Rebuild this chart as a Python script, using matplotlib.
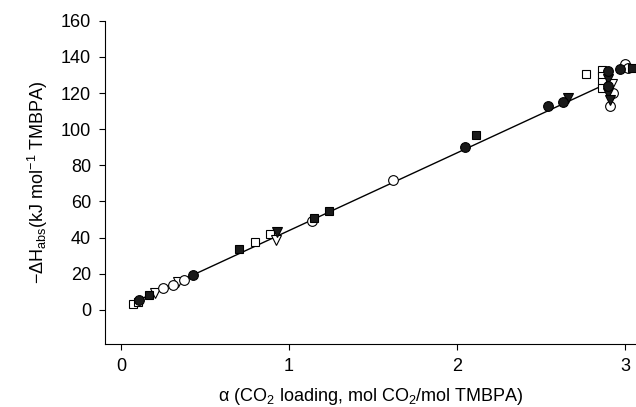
import numpy as np
import matplotlib.pyplot as plt

plt.rcParams['font.family'] = ['Liberation Sans', 'DejaVu Sans']
plt.rcParams['mathtext.fontset'] = 'custom'
plt.rcParams['mathtext.rm'] = 'Liberation Sans'
plt.rcParams['mathtext.it'] = 'Liberation Sans:italic'

# data (alpha, -dH)
fc_x = [0.11, 0.43, 2.05, 2.54, 2.63, 2.90, 2.97, 2.90]
fc_y = [5.5, 19.3, 90, 113, 115, 132, 133.5, 124]
fs_x = [0.17, 0.70, 1.15, 1.24, 2.11, 3.04]
fs_y = [8.0, 33.7, 50.8, 54.6, 97, 134]
ft_x = [0.93, 2.66, 2.90, 2.90, 2.91]
ft_y = [43, 117, 128, 120, 116]
oc_x = [0.25, 0.31, 0.375, 1.14, 1.62, 2.93, 2.91, 3.0, 3.02]
oc_y = [12, 13.8, 16.5, 49, 71.7, 120, 113, 136, 134]
os_x = [0.07, 0.10, 0.80, 0.89, 2.77, 2.86, 2.86, 2.86, 2.86]
os_y = [3.5, 4.6, 37.5, 41.9, 130.6, 133, 129.7, 126.3, 123]
ot_x = [0.20, 0.34, 0.92, 2.92]
ot_y = [9.4, 15.4, 38.6, 125]

# linear fit line
fit_a = 43.0
fit_b = 0.9
fit_x = np.array([0.07, 2.86])

fig = plt.figure(figsize=(6.36, 4.07), dpi=100)
ax = fig.add_axes([0.165, 0.155, 0.835, 0.794])

ax.plot(fit_x, fit_a * fit_x + fit_b, color='black', lw=1, zorder=1)

blk = '#1a1a1a'
kw = dict(ls='none', mec='black', mew=0.8, zorder=3, clip_on=False)
ax.plot(os_x, os_y, marker='s', ms=6.3, mfc='white', **kw)
ax.plot(ot_x, ot_y, marker='v', ms=7, mfc='white', **kw)
ax.plot(oc_x, oc_y, marker='o', ms=7, mfc='white', **kw)
ax.plot(fs_x, fs_y, marker='s', ms=6.3, mfc=blk, **kw)
ax.plot(ft_x, ft_y, marker='v', ms=7, mfc=blk, **kw)
ax.plot(fc_x, fc_y, marker='o', ms=7, mfc=blk, **kw)

ax.set_xlim(-0.095, 3.065)
ax.set_ylim(-18.8, 160)
ax.set_xticks([0, 1, 2, 3])
ax.set_yticks(range(0, 161, 20))
ax.spines['top'].set_visible(False)
ax.spines['right'].set_visible(False)
ax.tick_params(direction='out', length=4, width=0.8, labelsize=13, pad=6)

ax.set_xlabel('α (CO$_2$ loading, mol CO$_2$/mol TMBPA)', fontsize=13, labelpad=8)
ax.set_ylabel(r'$-\Delta$H$_{\rm abs}$(kJ mol$^{-1}$ TMBPA)', fontsize=13, labelpad=8)

fig.savefig('out.png', dpi=100)
